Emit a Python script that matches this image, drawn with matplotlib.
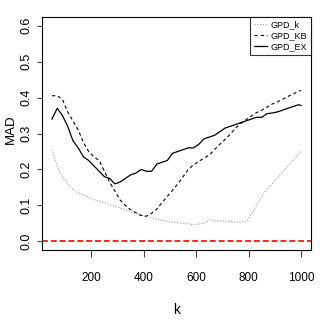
import numpy as np
import matplotlib
matplotlib.use("Agg")
import matplotlib.pyplot as plt
from matplotlib import font_manager

# ─── 数据 (读自参考图) ───
k = [50, 70, 90, 110, 130, 150, 170, 190, 210, 230, 250, 270, 290, 310, 330,
     350, 370, 390, 410, 430, 450, 470, 490, 510, 530, 550, 570, 590, 610,
     630, 650, 670, 690, 710, 730, 750, 770, 790, 810, 830, 850, 870, 890,
     910, 930, 950, 970, 990, 1000]

gpd_k = [0.255, 0.21, 0.18, 0.16, 0.145, 0.135, 0.13, 0.122, 0.116, 0.112,
         0.108, 0.102, 0.098, 0.093, 0.088, 0.082, 0.077, 0.073, 0.068, 0.065,
         0.061, 0.059, 0.056, 0.054, 0.052, 0.050, 0.049, 0.046, 0.048, 0.050,
         0.060, 0.057, 0.056, 0.057, 0.055, 0.054, 0.053, 0.055, 0.075, 0.100,
         0.125, 0.145, 0.160, 0.177, 0.193, 0.210, 0.225, 0.243, 0.252]

gpd_kb = [0.405, 0.405, 0.395, 0.36, 0.335, 0.31, 0.275, 0.25, 0.235, 0.225,
          0.195, 0.165, 0.14, 0.115, 0.10, 0.088, 0.08, 0.072, 0.07, 0.078,
          0.09, 0.108, 0.125, 0.142, 0.16, 0.18, 0.20, 0.213, 0.222, 0.232,
          0.24, 0.255, 0.27, 0.283, 0.298, 0.315, 0.328, 0.338, 0.348, 0.358,
          0.365, 0.373, 0.382, 0.388, 0.395, 0.403, 0.41, 0.417, 0.42]

gpd_ex = [0.34, 0.37, 0.35, 0.32, 0.28, 0.26, 0.235, 0.225, 0.21, 0.195,
          0.18, 0.175, 0.16, 0.165, 0.175, 0.185, 0.19, 0.20, 0.195, 0.195,
          0.215, 0.22, 0.225, 0.245, 0.25, 0.255, 0.26, 0.26, 0.27, 0.285,
          0.29, 0.295, 0.305, 0.315, 0.32, 0.325, 0.33, 0.335, 0.34, 0.345,
          0.345, 0.355, 0.357, 0.36, 0.365, 0.37, 0.375, 0.38, 0.378]

x_ticks = [200, 400, 600, 800, 1000]
y_ticks = [0.0, 0.1, 0.2, 0.3, 0.4, 0.5, 0.6]

# ─── 字体 ───
names = {f.name for f in font_manager.fontManager.ttflist}
fam = [n for n in ["Liberation Sans Narrow", "Liberation Sans", "DejaVu Sans"] if n in names]
plt.rcParams["font.family"] = fam

fig = plt.figure(figsize=(3.2, 3.27), dpi=100)
ax = fig.add_axes([42 / 320, 77 / 327, 269 / 320, 233 / 327])

ax.plot(k, gpd_k, color="#9a9a9a", lw=0.8, ls=(0, (1, 1.5)), label="GPD_k")
ax.plot(k, gpd_kb, color="black", lw=0.8, ls=(0, (3, 2.5)), label="GPD_KB")
ax.plot(k, gpd_ex, color="black", lw=0.9, label="GPD_EX")
ax.axhline(0, color="red", lw=1.2, ls=(0, (3.5, 1.8)))

# R 风格: 4% 扩展
ax.set_xlim(50 - 0.04 * 950, 1000 + 0.04 * 950)
ax.set_ylim(-0.024, 0.624)
ax.set_xticks(x_ticks)
ax.set_yticks(y_ticks)
ax.set_xticklabels([str(t) for t in x_ticks], fontsize=8.5)
ax.set_yticklabels([f"{t:.1f}" for t in y_ticks], fontsize=9, rotation=90, va="center")
ax.tick_params(axis="x", direction="out", length=5, width=0.8, color="#444", pad=11)
ax.tick_params(axis="y", direction="out", length=3.4, width=0.8, color="#444", pad=3.5)
for s in ax.spines.values():
    s.set_linewidth(0.8)

ax.set_xlabel("k", fontsize=10, va="center")
ax.set_ylabel("MAD", fontsize=9.5, va="center", ha="center")
ax.xaxis.set_label_coords(0.5, -0.2575)
ax.yaxis.set_label_coords(-0.115, 0.52)

leg = ax.legend(loc="upper right", fontsize=6.5, frameon=True, fancybox=False,
                borderaxespad=0, handlelength=1.5, handletextpad=0.4,
                labelspacing=0.2, borderpad=0.4)
leg.get_frame().set_edgecolor("black")
leg.get_frame().set_linewidth(0.8)

fig.savefig("out.png", dpi=100)
